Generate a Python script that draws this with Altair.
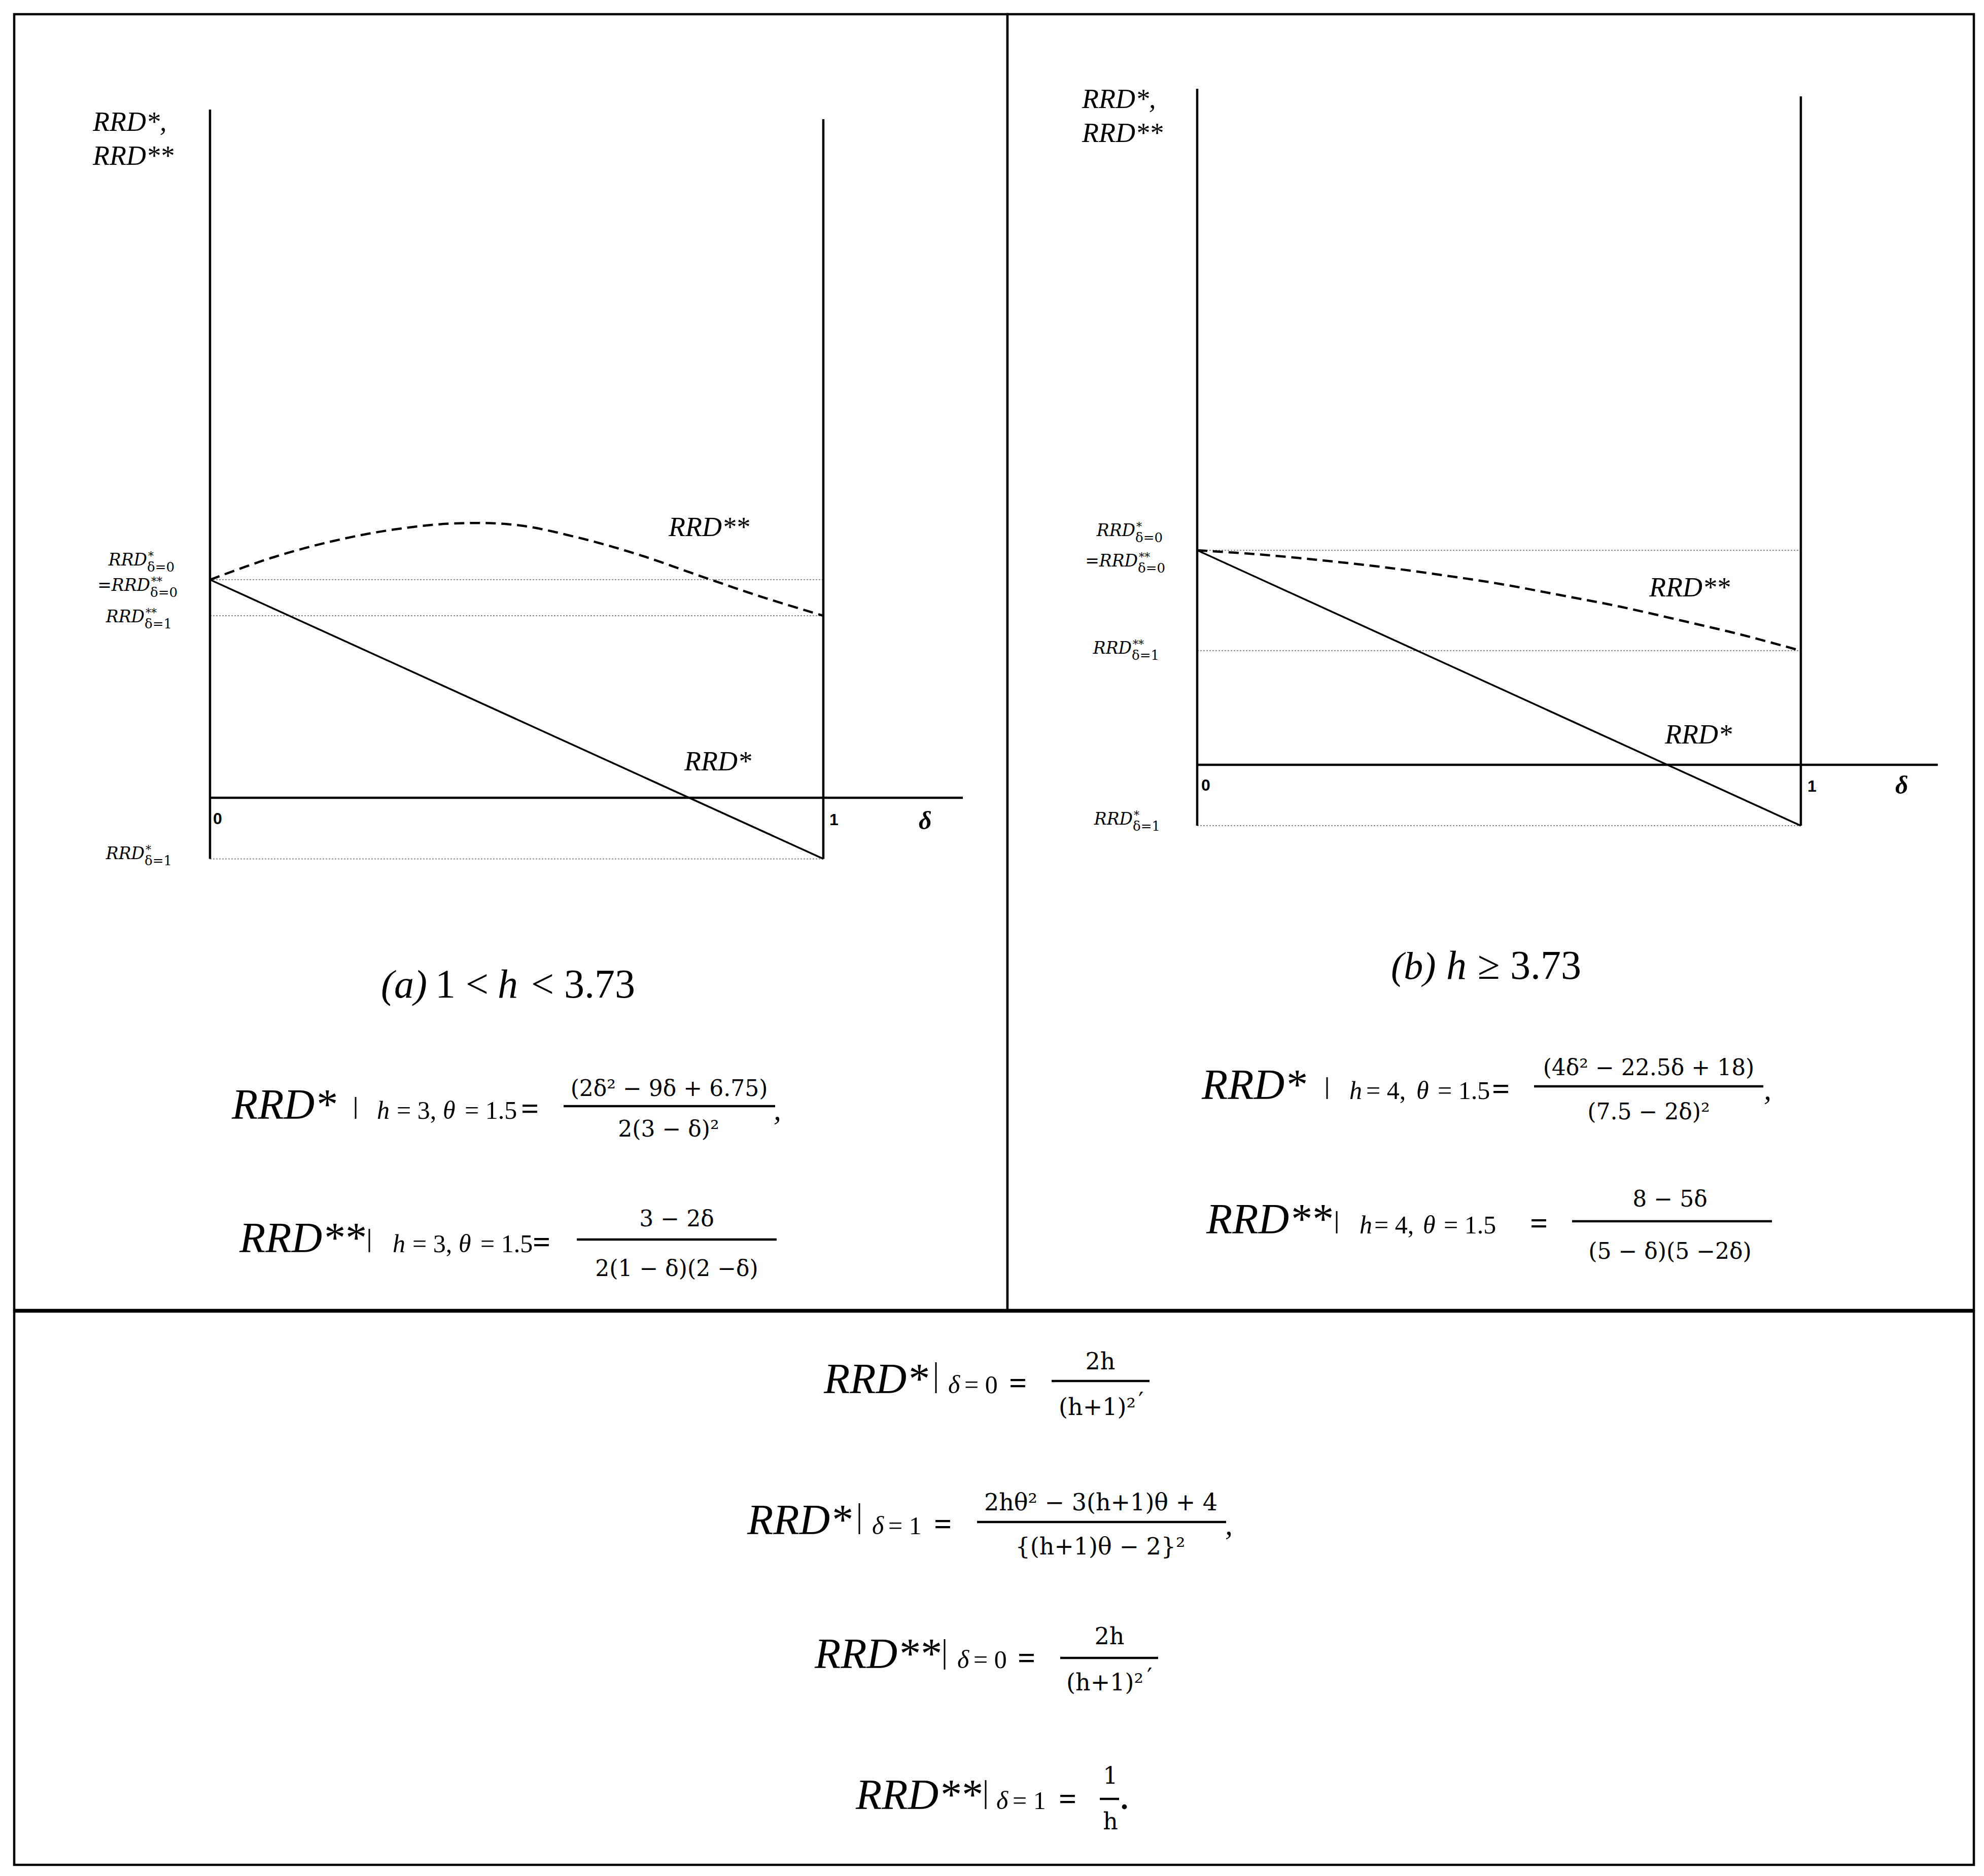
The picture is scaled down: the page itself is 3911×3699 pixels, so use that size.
import altair as alt
import pandas as pd

# ---------------- data ----------------
DELTA = [0.0, 0.1, 0.2, 0.3, 0.4, 0.5, 0.6, 0.7, 0.8, 0.9, 1.0]
DELTA_ENDS = [0.0, 1.0]

# panel (a): 1 < h < 3.73
RRD2_A = [0.375, 0.4125, 0.4413, 0.4613, 0.4718, 0.4690, 0.4475, 0.4177, 0.3811, 0.3453, 0.3131]
RRD1_A = [0.375, -0.105]
LEVELS_A = [0.375, 0.3131, -0.105]
VTOP_A = [1.1834, 1.1668]
HAXIS_END_A = 1.2275

# panel (b): h >= 3.73
RRD2_B = [0.320, 0.314, 0.3056, 0.2958, 0.2837, 0.2701, 0.2534, 0.2360, 0.2156, 0.1944, 0.1702]
RRD1_B = [0.320, -0.0908]
LEVELS_B = [0.320, 0.1702, -0.0908]
VTOP_B = [1.0084, 0.9971]
HAXIS_END_B = 1.2269

SERIF = "Liberation Serif"
MATH = "DejaVu Serif"
SANS = "Liberation Sans"
ONE = pd.DataFrame({"k": [0]})


def T(s, x, y, size, o, font=SERIF, style="normal", weight="normal", align="left"):
    return alt.Chart(ONE).mark_text(
        text=s, font=font, fontSize=size, fontStyle=style, fontWeight=weight,
        align=align, baseline="alphabetic", color="black"
    ).encode(x=alt.value(x - o[0]), y=alt.value(y - o[1]))


def HR(x1, x2, y, w, o):
    return alt.Chart(ONE).mark_rule(color="black", strokeWidth=w).encode(
        x=alt.value(x1 - o[0]), x2=alt.value(x2 - o[0]), y=alt.value(y - o[1]))


def VR(x, y1, y2, w, o):
    return alt.Chart(ONE).mark_rule(color="black", strokeWidth=w).encode(
        x=alt.value(x - o[0]), y=alt.value(y1 - o[1]), y2=alt.value(y2 - o[1]))


def small_label(main, right, base, sup, sub, o):
    return [
        T(main, right, base, 33, o, font=MATH, style="italic", align="right"),
        T(sup, right + 2, base - 11, 22, o, font=MATH),
        T(sub, right, base + 12, 26, o, font=MATH),
    ]


def sub_runs(xs, base, o, h_or_delta, rest1, theta=None, rest2=None):
    out = [T(h_or_delta, xs[0], base, 50, o, style="italic"),
           T(rest1, xs[1], base, 50, o)]
    if theta is not None:
        out += [T(theta, xs[2], base, 50, o, style="italic"),
                T(rest2, xs[3], base, 50, o)]
    return out


def panel(delta_dom, y_dom, rrd2, rrd1, levels, vtop, hend):
    xs = alt.Scale(domain=delta_dom, nice=False, zero=False)
    ys = alt.Scale(domain=y_dom, nice=False, zero=False)
    X = lambda f: alt.X(f, type="quantitative", scale=xs, axis=None)
    Y = lambda f: alt.Y(f, type="quantitative", scale=ys, axis=None)

    lev = pd.DataFrame({"d0": [0.0] * len(levels), "d1": [1.0] * len(levels), "v": levels})
    dotted = alt.Chart(lev).mark_rule(color="#8a8a8a", strokeWidth=2, strokeDash=[3, 3]).encode(
        x=X("d0"), x2="d1", y=Y("v"))

    vdf = pd.DataFrame({"d": DELTA_ENDS, "top": vtop, "bot": [levels[-1]] * 2})
    vlines = alt.Chart(vdf).mark_rule(color="black", strokeWidth=4.5).encode(
        x=X("d"), y=Y("top"), y2="bot")

    hdf = pd.DataFrame({"d0": [0.0], "d1": [hend], "v": [0.0]})
    hline = alt.Chart(hdf).mark_rule(color="black", strokeWidth=4.5).encode(
        x=X("d0"), x2="d1", y=Y("v"))

    l1 = alt.Chart(pd.DataFrame({"d": DELTA_ENDS, "v": rrd1})).mark_line(
        color="black", strokeWidth=3.5).encode(x=X("d"), y=Y("v"))
    l2 = alt.Chart(pd.DataFrame({"d": DELTA, "v": rrd2})).mark_line(
        color="black", strokeWidth=4.5, strokeDash=[20, 11], interpolate="catmull-rom").encode(
        x=X("d"), y=Y("v"))
    return [dotted, vlines, hline, l1, l2]


# ---------------- panel (a) ----------------
OA = (25, 25)
layers_a = panel([-0.3193, 1.3003], [-0.8808, 1.3474],
                 RRD2_A, RRD1_A, LEVELS_A, VTOP_A, HAXIS_END_A)
layers_a += [
    T("RRD*,", 180, 255, 54, OA, style="italic"),
    T("RRD**", 180, 322, 54, OA, style="italic"),
    T("RRD**", 1315, 1054, 54, OA, style="italic"),
    T("RRD*", 1346, 1516, 54, OA, style="italic"),
    T("0", 417, 1622, 32, OA, font=SANS, weight="bold"),
    T("1", 1632, 1624, 32, OA, font=SANS, weight="bold"),
    T("δ", 1808, 1632, 50, OA, style="italic", weight="bold"),
]
layers_a += small_label("RRD", 287, 1112, "*", "δ=0", OA)
layers_a += small_label("=RRD", 293, 1162, "**", "δ=0", OA)
layers_a += small_label("RRD", 282, 1224, "**", "δ=1", OA)
layers_a += small_label("RRD", 282, 1691, "*", "δ=1", OA)
layers_a += [
    T("(a)", 748, 1964, 78, OA, style="italic"),
    T("1 <", 855, 1964, 80, OA),
    T("h", 978, 1964, 80, OA, style="italic"),
    T("< 3.73", 1044, 1964, 80, OA),
]
layers_a += [T("RRD*", 454, 2203, 84, OA, style="italic"), VR(698, 2160, 2203, 3, OA)]
layers_a += sub_runs([740, 779, 870, 913], 2203, OA, "h", "= 3,", "θ", "= 1.5")
layers_a += [
    T("=", 1024, 2203, 62, OA, weight="bold"),
    HR(1108, 1525, 2178, 4.5, OA),
    T("(2δ² − 9δ + 6.75)", 1316, 2158, 44, OA, font=MATH, align="center"),
    T("2(3 − δ)²", 1315, 2238, 44, OA, font=MATH, align="center"),
    T(",", 1522, 2205, 60, OA, style="italic"),
]
layers_a += [T("RRD**", 469, 2466, 84, OA, style="italic"), VR(725, 2420, 2466, 3, OA)]
layers_a += sub_runs([771, 810, 901, 944], 2466, OA, "h", "= 3,", "θ", "= 1.5")
layers_a += [
    T("=", 1047, 2466, 62, OA, weight="bold"),
    HR(1134, 1528, 2441, 4.5, OA),
    T("3 − 2δ", 1331, 2415, 44, OA, font=MATH, align="center"),
    T("2(1 − δ)(2 −δ)", 1331, 2513, 44, OA, font=MATH, align="center"),
]
panel_a = alt.layer(*layers_a).properties(width=1958, height=2555)

# ---------------- panel (b) ----------------
OB = (1983, 25)
layers_b = panel([-0.3143, 1.2866], [-0.8132, 1.1196],
                 RRD2_B, RRD1_B, LEVELS_B, VTOP_B, HAXIS_END_B)
layers_b += [
    T("RRD*,", 2130, 210, 54, OB, style="italic"),
    T("RRD**", 2130, 277, 54, OB, style="italic"),
    T("RRD**", 3248, 1173, 54, OB, style="italic"),
    T("RRD*", 3279, 1463, 54, OB, style="italic"),
    T("0", 2365, 1556, 32, OB, font=SANS, weight="bold"),
    T("1", 3560, 1558, 32, OB, font=SANS, weight="bold"),
    T("δ", 3733, 1562, 50, OB, style="italic", weight="bold"),
]
layers_b += small_label("RRD", 2235, 1054, "*", "δ=0", OB)
layers_b += small_label("=RRD", 2240, 1114, "**", "δ=0", OB)
layers_b += small_label("RRD", 2228, 1286, "**", "δ=1", OB)
layers_b += small_label("RRD", 2230, 1623, "*", "δ=1", OB)
layers_b += [
    T("(b)", 2739, 1927, 76, OB, style="italic"),
    T("h", 2848, 1927, 80, OB, style="italic"),
    T("≥ 3.73", 2910, 1927, 80, OB),
]
layers_b += [T("RRD*", 2366, 2164, 84, OB, style="italic"), VR(2613, 2121, 2164, 3, OB)]
layers_b += sub_runs([2657, 2690, 2789, 2831], 2164, OB, "h", "= 4,", "θ", "= 1.5")
layers_b += [
    T("=", 2938, 2164, 62, OB, weight="bold"),
    HR(3021, 3473, 2139, 4.5, OB),
    T("(4δ² − 22.5δ + 18)", 3247, 2117, 44, OB, font=MATH, align="center"),
    T("(7.5 − 2δ)²", 3247, 2204, 44, OB, font=MATH, align="center"),
    T(",", 3474, 2165, 60, OB, style="italic"),
]
layers_b += [T("RRD**", 2375, 2429, 84, OB, style="italic"), VR(2632, 2385, 2429, 3, OB)]
layers_b += sub_runs([2677, 2706, 2802, 2843], 2429, OB, "h", "= 4,", "θ", "= 1.5")
layers_b += [
    T("=", 3013, 2429, 62, OB, weight="bold"),
    HR(3096, 3490, 2405, 4.5, OB),
    T("8 − 5δ", 3289, 2376, 44, OB, font=MATH, align="center"),
    T("(5 − δ)(5 −2δ)", 3289, 2479, 44, OB, font=MATH, align="center"),
]
panel_b = alt.layer(*layers_b).properties(width=1905, height=2555)

# ---------------- bottom box ----------------
OC = (25, 2580)
lc = []
lc += [T("RRD*", 1621, 2741, 84, OC, style="italic"), VR(1842, 2680, 2741, 3, OC)]
lc += sub_runs([1866, 1898], 2741, OC, "δ", "= 0")
lc += [T("=", 1986, 2741, 62, OC, weight="bold"), HR(2070, 2263, 2717, 4.5, OC),
       T("2h", 2166, 2694, 46, OC, font=MATH, align="center"),
       T("(h+1)²", 2160, 2784, 46, OC, font=MATH, align="center"),
       T("′", 2241, 2772, 46, OC, font=MATH)]
lc += [T("RRD*", 1470, 3019, 84, OC, style="italic"), VR(1691, 2958, 3019, 3, OC)]
lc += sub_runs([1716, 1748], 3019, OC, "δ", "= 1")
lc += [T("=", 1838, 3019, 62, OC, weight="bold"), HR(1923, 2414, 2995, 4.5, OC),
       T("2hθ² − 3(h+1)θ + 4", 2167, 2972, 46, OC, font=MATH, align="center"),
       T("{(h+1)θ − 2}²", 2166, 3059, 46, OC, font=MATH, align="center"),
       T(",", 2412, 3020, 60, OC, style="italic")]
lc += [T("RRD**", 1603, 3283, 84, OC, style="italic"), VR(1859, 3226, 3286, 3, OC)]
lc += sub_runs([1884, 1916], 3283, OC, "δ", "= 0")
lc += [T("=", 2003, 3283, 62, OC, weight="bold"), HR(2087, 2280, 3263, 4.5, OC),
       T("2h", 2184, 3236, 46, OC, font=MATH, align="center"),
       T("(h+1)²", 2175, 3327, 46, OC, font=MATH, align="center"),
       T("′", 2258, 3316, 46, OC, font=MATH)]
lc += [T("RRD**", 1684, 3561, 84, OC, style="italic"), VR(1940, 3504, 3561, 3, OC)]
lc += sub_runs([1961, 1993], 3561, OC, "δ", "= 1")
lc += [T("=", 2084, 3561, 62, OC, weight="bold"), HR(2165, 2203, 3541, 4.5, OC),
       T("1", 2186, 3511, 46, OC, font=MATH, align="center"),
       T("h", 2186, 3601, 46, OC, font=MATH, align="center"),
       T(".", 2206, 3561, 60, OC, weight="bold")]
bottom = alt.layer(*lc).properties(width=3863, height=1091)

top = alt.hconcat(panel_a, panel_b, spacing=0, bounds="flush")
chart = alt.vconcat(top, bottom, spacing=-10).properties(
    padding={"left": 17, "top": 17, "right": 5, "bottom": 5}
).configure(background="white").configure_view(stroke="black", strokeWidth=4.5, fill="white")

chart.save("out.html", embed_options={"renderer": "svg", "actions": False})
